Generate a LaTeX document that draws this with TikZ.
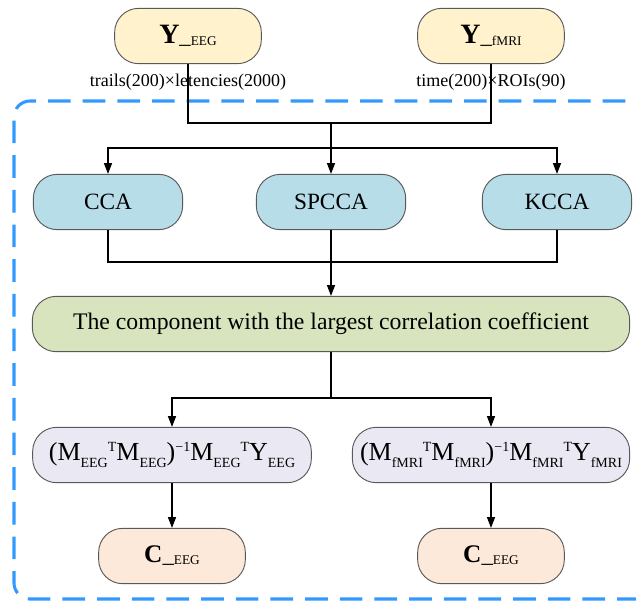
\documentclass[tikz,border=0pt]{standalone}
\usepackage{fontspec}
\setmainfont{Liberation Serif}
\usetikzlibrary{arrows.meta}

% small lowered / raised indices used in the formulas
\newcommand\lo[1]{\raisebox{-5pt}{\fontsize{10.5}{10.5}\selectfont #1}}
\newcommand\hi[1]{\raisebox{7pt}{\fontsize{10.5}{10.5}\selectfont #1}}
% bold letter followed by an underscore and a small tag
\newcommand\tagged[3]{{\fontsize{#1}{#1}\selectfont\bfseries #2}{\fontsize{17}{17}\selectfont\_}\raisebox{-1.5pt}{\fontsize{10}{10}\selectfont #3}}

\definecolor{inputfill}{HTML}{FFF2CC}
\definecolor{methodfill}{HTML}{B7DDE8}
\definecolor{selectfill}{HTML}{D7E4BD}
\definecolor{formulafill}{HTML}{EAE8F2}
\definecolor{outputfill}{HTML}{FCE9DA}
\definecolor{boxline}{HTML}{595959}
\definecolor{framecol}{HTML}{3399FF}

\tikzset{
  box/.style={draw=boxline, line width=0.7pt, rounded corners=18pt,
    inner sep=0pt, minimum height=41.5pt, align=center},
  inputbox/.style={box, fill=inputfill, minimum width=110pt},
  methodbox/.style={box, fill=methodfill, minimum width=112pt,
    font=\fontsize{17.5}{17.5}\selectfont},
  selectbox/.style={box, fill=selectfill, minimum width=448pt,
    font=\fontsize{17.8}{17.8}\selectfont},
  formulabox/.style={box, fill=formulafill, minimum width=209pt,
    font=\fontsize{19.5}{19.5}\selectfont},
  outputbox/.style={box, fill=outputfill, minimum width=110pt},
  dimlabel/.style={inner sep=0pt, font=\fontsize{13.5}{13.5}\selectfont},
  link/.style={line width=0.8pt, black},
  arrowlink/.style={link, -{Triangle[length=8pt,width=6pt]}},
}

\begin{document}
\begin{tikzpicture}[x=0.75pt, y=-0.75pt]
\useasboundingbox (0,0) rectangle (636,601);

% dashed processing frame, open to the right
\begin{scope}
  \clip (0,0) rectangle (636,601);
  \draw[framecol, line width=2.3pt, dash pattern=on 17pt off 9pt,
        rounded corners=12pt] (660,101) -- (14,101) -- (14,599) -- (660,599);
\end{scope}

% inputs
\node[inputbox] (yeeg)  at (188,36) {\tagged{21}{Y}{EEG}};
\node[inputbox] (yfmri) at (491,36) {\tagged{21}{Y}{fMRI}};
\node[dimlabel] (leeg)  at (188,82) {trails(200)×letencies(2000)};
\node[dimlabel] (lfmri) at (491,82) {time(200)×ROIs(90)};

% methods
\node[methodbox] (cca)   at (108,202) {CCA};
\node[methodbox] (spcca) at (331,202) {SPCCA};
\node[methodbox] (kcca)  at (557,202) {KCCA};

% selection
\node[selectbox] (best) at (331,324) {The component with the largest correlation coefficient};

% projections
\node[formulabox] (feeg)  at (172,455)
  {(M\lo{EEG}\hi{T}M\lo{EEG})\hi{−1}M\lo{EEG}\hi{T}Y\lo{EEG}};
\node[formulabox, minimum width=208pt] (ffmri) at (491,455)
  {(M\lo{fMRI}\hi{T}M\lo{fMRI})\hi{−1}M\lo{fMRI}\hi{T}Y\lo{fMRI}};

% outputs
\node[outputbox] (ceeg)  at (172,556) {\tagged{19}{C}{EEG}};
\node[outputbox] (cfmri) at (491,556) {\tagged{19}{C}{EEG}};

% junctions
\coordinate (jin)   at (331,123);
\coordinate (jsplit) at (331,148);
\coordinate (jmerge) at (331,262);
\coordinate (jform) at (331,398);

% connectors
\draw[link] (yeeg.south) |- (jin) -| (yfmri.south);
\draw[link] (jin) -- (jsplit);
\draw[arrowlink] (jsplit) -| (cca.north);
\draw[arrowlink] (jsplit) -| (kcca.north);
\draw[arrowlink] (jsplit) -- (spcca.north);

\draw[link] (cca.south) |- (jmerge) -| (kcca.south);
\draw[arrowlink] (spcca.south) -- (best.north);

\draw[link] (best.south) -- (jform);
\draw[arrowlink] (jform) -| (feeg.north);
\draw[arrowlink] (jform) -| (ffmri.north);

\draw[arrowlink] (feeg.south) -- (ceeg.north);
\draw[arrowlink] (ffmri.south) -- (cfmri.north);
\end{tikzpicture}
\end{document}
